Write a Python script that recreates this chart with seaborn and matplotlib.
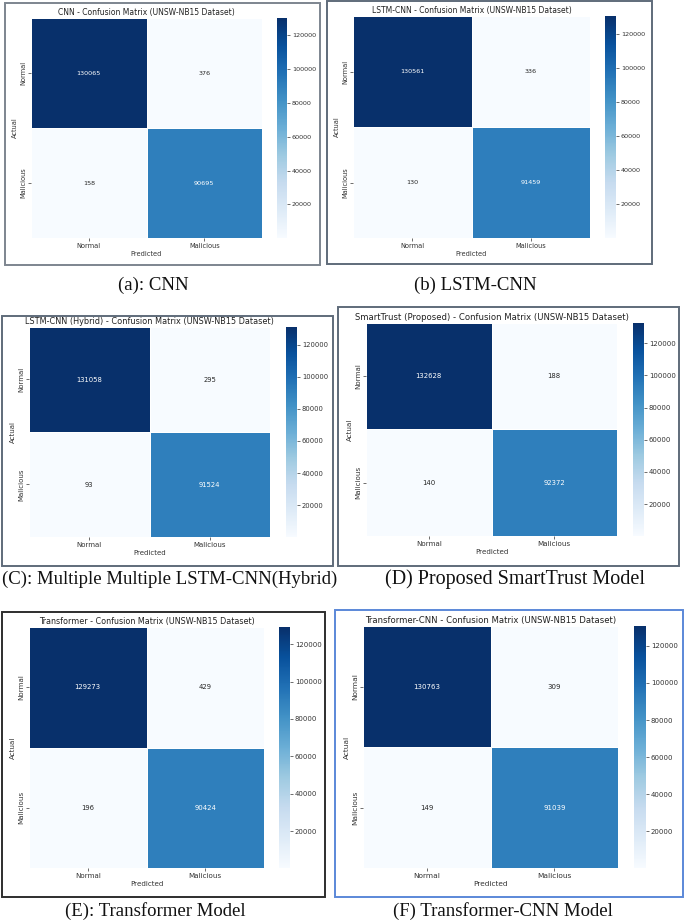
import numpy as np
import matplotlib
matplotlib.use("Agg")
import matplotlib.pyplot as plt
from matplotlib.patches import Rectangle
import seaborn as sns

# ---- data ----
labels = ["Normal", "Malicious"]
cnn = [[130065, 376], [158, 90695]]
lstm_cnn = [[130561, 336], [130, 91459]]
lstm_cnn_hybrid = [[131058, 295], [93, 91524]]
smarttrust = [[132628, 188], [140, 92372]]
transformer = [[129273, 429], [196, 90424]]
transformer_cnn = [[130763, 309], [149, 91039]]

titles = [
    "CNN - Confusion Matrix (UNSW-NB15 Dataset)",
    "LSTM-CNN - Confusion Matrix (UNSW-NB15 Dataset)",
    "LSTM-CNN (Hybrid) - Confusion Matrix (UNSW-NB15 Dataset)",
    "SmartTrust (Proposed) - Confusion Matrix (UNSW-NB15 Dataset)",
    "Transformer - Confusion Matrix (UNSW-NB15 Dataset)",
    "Transformer-CNN - Confusion Matrix (UNSW-NB15 Dataset)",
]
captions = [
    "(a): CNN",
    "(b) LSTM-CNN",
    "(C): Multiple Multiple LSTM-CNN(Hybrid)",
    "(D) Proposed SmartTrust Model",
    "(E): Transformer Model",
    "(F) Transformer-CNN Model",
]
matrices = [cnn, lstm_cnn, lstm_cnn_hybrid, smarttrust, transformer, transformer_cnn]

W, H = 685, 922
fig = plt.figure(figsize=(W / 100, H / 100), dpi=100)
fig.patch.set_facecolor("white")


def frac(x0, y0, x1, y1):
    return [x0 / W, 1 - y1 / H, (x1 - x0) / W, (y1 - y0) / H]


# layout in pixels: box, heatmap, colorbar, caption centre, box colour, text sizes
layout = [
    dict(box=(5, 3, 320, 265), heat=(31, 18, 262, 238), cbar=(277, 18, 287, 238), cap=(153, 285),
         ec="#7d858f", tsz=5.5, s=1.0, csz=13.5),
    dict(box=(327, 1, 652, 264), heat=(353, 16, 590, 238), cbar=(605, 16, 616, 238), cap=(475, 285),
         ec="#5f6b7a", tsz=5.5, s=1.0, csz=13.5),
    dict(box=(2, 316, 333, 566), heat=(29, 327, 270, 537), cbar=(286, 327, 297, 537), cap=(170, 579),
         ec="#5f6b7a", tsz=5.9, s=1.06, csz=13.5),
    dict(box=(338, 307, 679, 566), heat=(366, 323, 617, 536), cbar=(633, 323, 644, 536), cap=(515, 579),
         ec="#5f6b7a", tsz=6.1, s=1.08, csz=14.5),
    dict(box=(2, 612, 325, 897), heat=(29, 627, 264, 868), cbar=(279, 627, 290, 868), cap=(155, 911),
         ec="#2e2e2e", tsz=5.8, s=1.08, csz=13.5),
    dict(box=(335, 610, 683, 897), heat=(363, 626, 618, 868), cbar=(634, 626, 646, 868), cap=(503, 911),
         ec="#5b88d8", tsz=6.1, s=1.1, csz=13.5),
]

for mat, title, cap, lay in zip(matrices, titles, captions, layout):
    s = lay["s"]
    bx0, by0, bx1, by1 = lay["box"]
    fig.patches.append(Rectangle((bx0 / W, 1 - by1 / H), (bx1 - bx0) / W, (by1 - by0) / H,
                                 transform=fig.transFigure, fill=False,
                                 edgecolor=lay["ec"], linewidth=1.4))
    ax = fig.add_axes(frac(*lay["heat"]))
    cax = fig.add_axes(frac(*lay["cbar"]))
    sns.heatmap(np.array(mat), annot=True, fmt="d", cmap="Blues",
                xticklabels=labels, yticklabels=labels,
                linewidths=0.6, linecolor="white",
                ax=ax, cbar_ax=cax, annot_kws={"fontsize": 4.6 * s})
    ax.set_title(title, fontsize=lay["tsz"], pad=2.5, color="#222222")
    ax.set_xlabel("Predicted", fontsize=4.8 * s, labelpad=1.5, color="#333333")
    ax.set_ylabel("Actual", fontsize=4.8 * s, labelpad=1.5, color="#333333")
    ax.tick_params(axis="both", labelsize=4.8 * s, length=2, width=0.5, pad=1.5, colors="#333333")
    plt.setp(ax.get_yticklabels(), rotation=90, va="center")
    plt.setp(ax.get_xticklabels(), rotation=0)
    cax.tick_params(labelsize=4.6 * s, length=2, width=0.5, pad=1.5, colors="#333333")
    fig.text(lay["cap"][0] / W, 1 - lay["cap"][1] / H, cap, ha="center", va="center",
             fontsize=lay["csz"], family="Liberation Serif", color="#111111")

fig.savefig("out.png", dpi=100, facecolor="white")
